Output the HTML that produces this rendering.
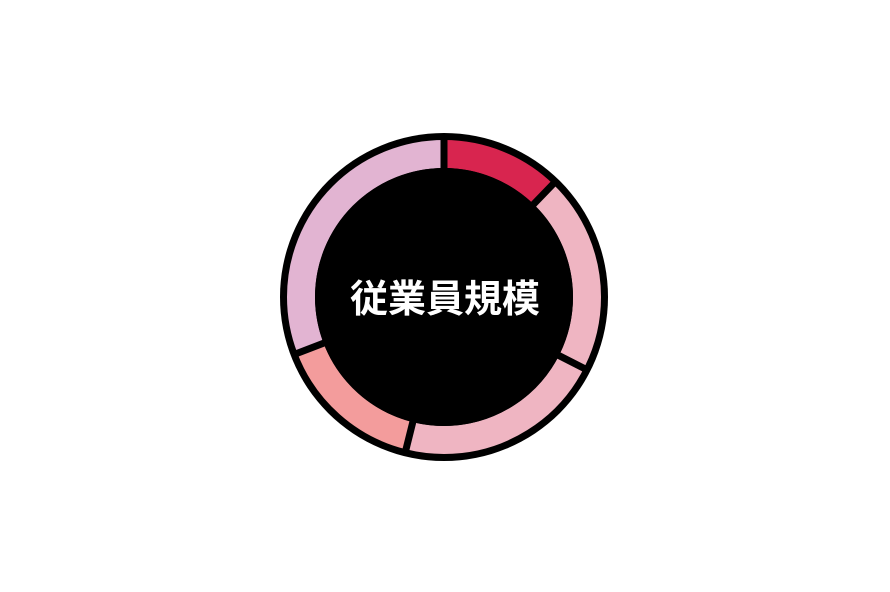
<!DOCTYPE html>
<html><head><meta charset="utf-8"><style>
html,body{margin:0;padding:0;background:#fff;width:890px;height:592px;overflow:hidden}
</style></head><body>
<svg width="890" height="592" viewBox="0 0 890 592" xmlns="http://www.w3.org/2000/svg">
<circle cx="444" cy="297" r="164" fill="#000"/>
<g transform="rotate(-90 444 297)" fill="none" stroke-width="28">
<circle cx="444" cy="297" r="143" stroke="#d8254f" stroke-dasharray="109.8 1000" stroke-dashoffset="0"/>
<circle cx="444" cy="297" r="143" stroke="#efb5c2" stroke-dasharray="179.7 1000" stroke-dashoffset="-109.8"/>
<circle cx="444" cy="297" r="143" stroke="#efb5c2" stroke-dasharray="194.7 1000" stroke-dashoffset="-289.5"/>
<circle cx="444" cy="297" r="143" stroke="#f39c9c" stroke-dasharray="137.3 1000" stroke-dashoffset="-484.2"/>
<circle cx="444" cy="297" r="143" stroke="#e2b4d2" stroke-dasharray="277 1000" stroke-dashoffset="-621.5"/>
</g>
<g stroke="#000" stroke-width="7">
<line x1="444" y1="297" x2="444" y2="134"/>
<line x1="444" y1="297" transform="rotate(44 444 297)" x2="444" y2="134"/>
<line x1="444" y1="297" transform="rotate(117 444 297)" x2="444" y2="134"/>
<line x1="444" y1="297" transform="rotate(194 444 297)" x2="444" y2="134"/>
<line x1="444" y1="297" transform="rotate(249 444 297)" x2="444" y2="134"/>
</g>
<circle cx="444" cy="297" r="129" fill="#000"/>
<text x="445" y="312" text-anchor="middle" fill="#fff" font-size="38" font-weight="bold" font-family="'Liberation Sans','Noto Sans CJK JP',sans-serif">従業員規模</text>
</svg>
</body></html>
